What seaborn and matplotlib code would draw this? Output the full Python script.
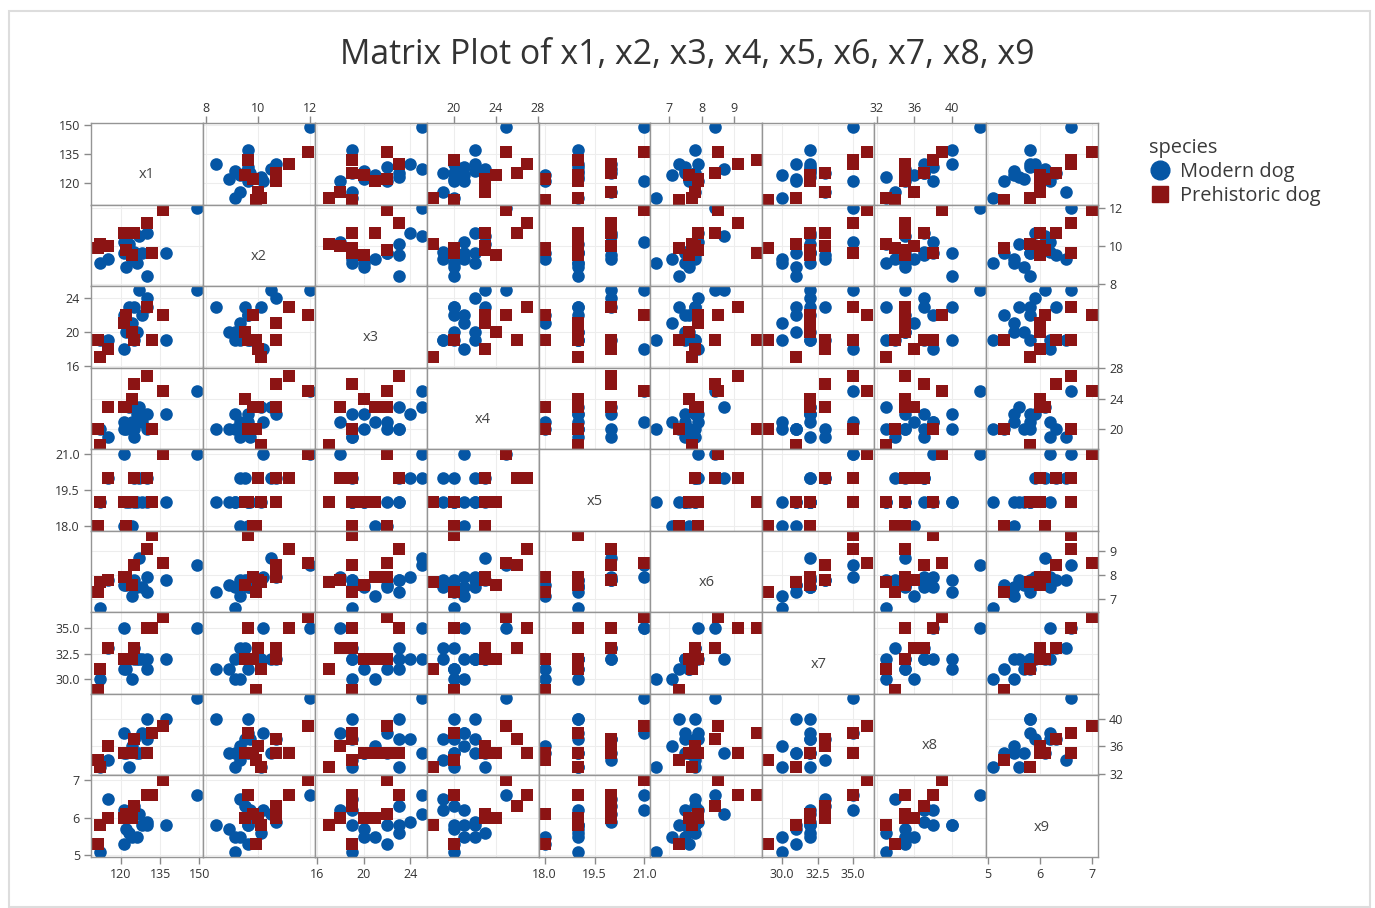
# Matrix plot of the nine mandible measurements, modern vs prehistoric dogs

import pandas as pd
import seaborn as sns
import matplotlib.pyplot as plt
from matplotlib.lines import Line2D
from matplotlib.patches import Rectangle


# 16 modern dogs followed by 10 prehistoric dogs
species = ["Modern dog"] * 16 + ["Prehistoric dog"] * 10
x1 = [123, 137, 121, 130, 149, 125, 126, 125, 121, 122, 115, 112, 124, 128, 130, 127,
      112, 115, 136, 111, 130, 125, 132, 121, 122, 124]
x2 = [10.1, 9.6, 10.2, 10.7, 12.0, 9.5, 9.1, 9.7, 9.6, 8.9, 9.3, 9.1, 9.3, 9.6, 8.4, 10.5,
      10.1, 10.0, 11.9, 9.9, 11.2, 10.7, 9.6, 10.7, 9.8, 9.5]
x3 = [23, 19, 18, 24, 25, 23, 20, 19, 22, 20, 19, 19, 21, 22, 23, 25,
      17, 18, 22, 19, 23, 19, 19, 21, 22, 20]
x4 = [23, 22, 21, 22, 25, 20, 22, 19, 20, 20, 19, 20, 21, 21, 20, 23,
      18, 23, 25, 20, 27, 26, 20, 23, 23, 24]
x5 = [19, 19, 21, 20, 21, 20, 19, 19, 18, 19, 20, 19, 18, 19, 19, 20,
      19, 20, 21, 18, 20, 20, 19, 19, 18, 19]
x6 = [7.8, 7.8, 7.9, 7.9, 8.4, 7.8, 7.5, 7.5, 7.6, 7.6, 7.8, 6.6, 7.1, 7.5, 7.3, 8.7,
      7.7, 7.8, 8.5, 7.3, 9.1, 8.4, 9.7, 7.9, 7.9, 7.6]
x7 = [32, 32, 35, 32, 35, 33, 32, 32, 31, 31, 33, 30, 30, 32, 31, 32,
      31, 33, 36, 29, 35, 33, 35, 32, 32, 32]
x8 = [33, 40, 38, 37, 43, 37, 35, 37, 35, 35, 34, 33, 36, 38, 40, 35,
      33, 36, 39, 34, 35, 37, 38, 35, 35, 35]
x9 = [5.6, 5.8, 6.2, 5.9, 6.6, 6.3, 5.5, 6.2, 5.3, 5.7, 6.5, 5.1, 5.5, 5.8, 5.8, 6.1,
      5.8, 6.0, 7.0, 5.3, 6.6, 6.3, 6.6, 6.0, 6.1, 6.0]

variables = ["x1", "x2", "x3", "x4", "x5", "x6", "x7", "x8", "x9"]
groups = ["Modern dog", "Prehistoric dog"]

# scale of each variable
axis_lo = [108.5, 7.88, 15.8, 17.4, 17.82, 6.43, 28.6, 31.75, 4.96]
axis_hi = [151.3, 12.17, 25.4, 28.1, 21.18, 9.86, 36.5, 43.65, 7.12]
tick_values = [[120, 135, 150], [8, 10, 12], [16, 20, 24], [20, 24, 28], [18.0, 19.5, 21.0],
               [7, 8, 9], [30.0, 32.5, 35.0], [32, 36, 40], [5, 6, 7]]
tick_labels = [["120", "135", "150"], ["8", "10", "12"], ["16", "20", "24"], ["20", "24", "28"],
               ["18.0", "19.5", "21.0"], ["7", "8", "9"], ["30.0", "32.5", "35.0"],
               ["32", "36", "40"], ["5", "6", "7"]]

df = pd.DataFrame({"x1": x1, "x2": x2, "x3": x3, "x4": x4, "x5": x5, "x6": x6,
                   "x7": x7, "x8": x8, "x9": x9, "species": species})

blue = "#0556a5"
red = "#8c1414"

sns.set_theme(style="white")
plt.rcParams["font.family"] = ["Open Sans", "DejaVu Sans"]

g = sns.PairGrid(df, vars=variables, hue="species", hue_order=groups,
                 palette=[blue, red], hue_kws={"marker": ["o", "s"]},
                 despine=False, height=1.0, aspect=1.37)
g.map_offdiag(plt.scatter, s=82, linewidths=0)

fig = g.figure
fig.set_size_inches(13.75, 9.08)
fig.subplots_adjust(left=91 / 1375, right=1098 / 1375, top=1 - 123 / 908,
                    bottom=1 - 857 / 908, wspace=0, hspace=0)

n = len(variables)
for i in range(n):
    for j in range(n):
        ax = g.axes[i, j]
        ax.set_xlabel("")
        ax.set_ylabel("")
        ax.set_xlim(axis_lo[j], axis_hi[j])
        ax.set_ylim(axis_lo[i], axis_hi[i])
        ax.set_xticks(tick_values[j], tick_labels[j])
        ax.set_yticks(tick_values[i], tick_labels[i])
        for sp in ax.spines.values():
            sp.set_color("#959595")
            sp.set_linewidth(1.0)
        ax.tick_params(left=False, right=False, top=False, bottom=False,
                       labelleft=False, labelright=False, labeltop=False, labelbottom=False,
                       length=5, width=1, color="#8a8a8a", labelsize=9,
                       labelcolor="#333333", pad=3)
        if j == 0 and i % 2 == 0:
            ax.tick_params(axis="y", left=True, labelleft=True)
        if j == n - 1 and i % 2 == 1:
            ax.tick_params(axis="y", right=True, labelright=True)
        if i == 0 and j % 2 == 1:
            ax.tick_params(axis="x", top=True, labeltop=True, pad=1)
        if i == n - 1 and j % 2 == 0:
            ax.tick_params(axis="x", bottom=True, labelbottom=True)
        if i == j:
            ax.grid(False)
            ax.text(0.5, 0.365, variables[i], transform=ax.transAxes, ha="center",
                    va="center", fontsize=10.5, color="#444444")
        else:
            ax.grid(True, color="#ededed", linewidth=0.8)
            ax.set_axisbelow(True)

fig.text(0.5, 1 - 55 / 908, "Matrix Plot of x1, x2, x3, x4, x5, x6, x7, x8, x9",
         ha="center", va="center", fontsize=24.4, color="#333333")

handles = [Line2D([], [], linestyle="", marker="o", markersize=13.5, color=blue),
           Line2D([], [], linestyle="", marker="s", markersize=11, color=red)]
leg = fig.legend(handles, groups, title="species", loc="upper left",
                 bbox_to_anchor=(1131 / 1375, 1 - 120 / 908), frameon=False,
                 fontsize=14.4, title_fontsize=14.4, alignment="left",
                 handletextpad=0.45, labelspacing=0.2, handlelength=1.1)
for t in leg.get_texts():
    t.set_color("#3a3a3a")
leg.get_title().set_color("#3a3a3a")

fig.add_artist(Rectangle((8.5 / 1375, 0.001), (1370 - 8.5) / 1375, (906 - 9.5) / 908,
                         transform=fig.transFigure, fill=False, edgecolor="#dddddd",
                         linewidth=1.5))

fig.savefig("out.png", dpi=100)
plt.close(fig)
